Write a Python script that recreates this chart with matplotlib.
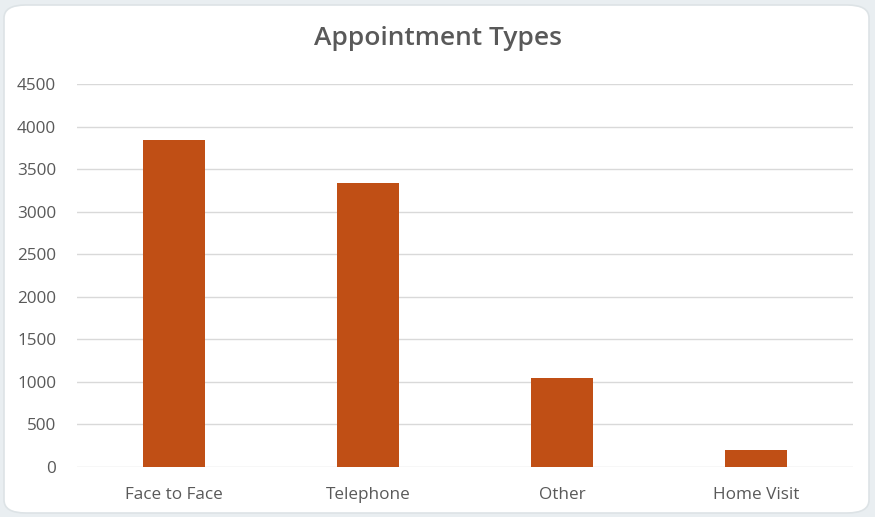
import matplotlib
matplotlib.use("Agg")
import matplotlib.pyplot as plt
from matplotlib.patches import FancyBboxPatch

# 数据
categories = ["Face to Face", "Telephone", "Other", "Home Visit"]
counts = [3840, 3340, 1050, 200]
y_ticks = [0, 500, 1000, 1500, 2000, 2500, 3000, 3500, 4000, 4500]

plt.rcParams["font.family"] = ["Open Sans", "DejaVu Sans"]

fig = plt.figure(figsize=(8.75, 5.17), dpi=100)
fig.patch.set_facecolor("#E9EEF1")

# 白色圆角卡片（放在最底层）
card = FancyBboxPatch(
    (4 / 875, 4 / 517), 865 / 875, 508 / 517,
    boxstyle="round,pad=0,rounding_size=0.025",
    transform=fig.transFigure, facecolor="white",
    edgecolor="#DDE3E6", linewidth=1.2, zorder=-10,
)
fig.patches.append(card)

ax = fig.add_axes([77 / 875, 1 - 467 / 517, 776 / 875, 383 / 517])
ax.set_zorder(5)
ax.set_facecolor("none")

x = range(len(categories))
ax.bar(x, counts, width=0.315, color="#C04F15", zorder=3)

ax.set_ylim(0, 4500)
ax.set_xlim(-0.5, len(categories) - 0.5)
ax.set_yticks(y_ticks)
ax.set_xticks(list(x))
ax.set_xticklabels(categories)
ax.yaxis.grid(True, color="#D9D9D9", linewidth=1, zorder=0)
ax.set_axisbelow(True)
for s in ax.spines.values():
    s.set_visible(False)
ax.tick_params(axis="both", length=0, colors="#595959", labelsize=12.3)
ax.tick_params(axis="y", pad=15)
ax.tick_params(axis="x", pad=14.5)

fig.text(0.5, 1 - 38.5 / 517, "Appointment Types", ha="center", va="center",
         fontsize=19, color="#595959", fontweight="semibold", zorder=6)

fig.savefig("out.png", dpi=100, facecolor=fig.get_facecolor())
